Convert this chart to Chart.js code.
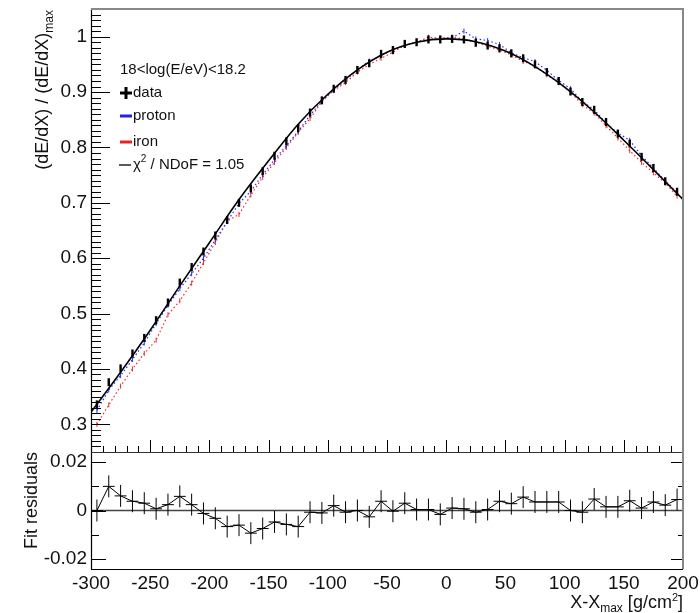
<!DOCTYPE html>
<html>
<head>
<meta charset="utf-8">
<script src="https://cdn.jsdelivr.net/npm/chart.js@4.4.0/dist/chart.umd.min.js"></script>
<style>
  body { margin: 0; background: #fff; }
  #wrap { position: relative; width: 700px; height: 613px; }
</style>
</head>
<body>
<div id="wrap"><canvas id="chart" width="700" height="613"></canvas></div>
<script>
// bin centres, X - Xmax in g/cm2
const binX = [-295, -285, -275, -265, -255, -245, -235, -225, -215, -205,
  -195, -185, -175, -165, -155, -145, -135, -125, -115, -105,
  -95, -85, -75, -65, -55, -45, -35, -25, -15, -5,
  5, 15, 25, 35, 45, 55, 65, 75, 85, 95,
  105, 115, 125, 135, 145, 155, 165, 175, 185, 195];

const dataY = [0.336, 0.376, 0.401, 0.428, 0.456, 0.488, 0.520, 0.556, 0.584, 0.612,
  0.641, 0.669, 0.700, 0.726, 0.757, 0.785, 0.811, 0.835, 0.863, 0.885,
  0.906, 0.922, 0.940, 0.952, 0.969, 0.976, 0.987, 0.990, 0.995, 0.995,
  0.996, 0.995, 0.989, 0.984, 0.979, 0.970, 0.961, 0.950, 0.936, 0.920,
  0.901, 0.882, 0.868, 0.846, 0.825, 0.807, 0.783, 0.763, 0.739, 0.720];

const protonY = [0.325, 0.362, 0.388, 0.417, 0.447, 0.482, 0.515, 0.545, 0.572, 0.600,
  0.633, 0.666, 0.699, 0.721, 0.751, 0.778, 0.803, 0.829, 0.858, 0.884,
  0.904, 0.921, 0.940, 0.956, 0.966, 0.977, 0.984, 0.990, 0.995, 0.997,
  0.998, 1.010, 0.996, 0.993, 0.986, 0.971, 0.962, 0.955, 0.939, 0.921,
  0.906, 0.883, 0.868, 0.844, 0.826, 0.813, 0.785, 0.763, 0.739, 0.719];

const ironY = [0.300, 0.335, 0.369, 0.400, 0.428, 0.452, 0.498, 0.523, 0.555, 0.592,
  0.628, 0.667, 0.679, 0.714, 0.746, 0.773, 0.800, 0.827, 0.852, 0.883,
  0.903, 0.917, 0.936, 0.950, 0.961, 0.972, 0.984, 0.990, 0.999, 0.997,
  0.999, 0.996, 0.990, 0.983, 0.976, 0.967, 0.955, 0.948, 0.931, 0.917,
  0.900, 0.877, 0.862, 0.839, 0.817, 0.794, 0.773, 0.754, 0.736, 0.712];

// fitted curve
const fitX = [-300, -275, -250, -225, -200, -175, -150, -125, -100, -75, -50,
  -25, 0, 25, 50, 75, 100, 125, 150, 175, 200];
const fitY = [0.322, 0.394, 0.470, 0.550, 0.628, 0.706, 0.776, 0.842, 0.896, 0.940, 0.972,
  0.990, 0.996, 0.991, 0.974, 0.946, 0.909, 0.864, 0.813, 0.760, 0.706];

const residY = [0.0000, 0.0099, 0.0060, 0.0038, 0.0030, 0.0007, 0.0024, 0.0058, 0.0024, -0.0012,
  -0.0032, -0.0066, -0.0060, -0.0093, -0.0074, -0.0047, -0.0057, -0.0066, -0.0007, -0.0010,
  0.0020, -0.0007, 0.0000, -0.0026, 0.0038, -0.0003, 0.0030, 0.0004, 0.0004, -0.0016,
  0.0010, 0.0007, -0.0007, 0.0004, 0.0038, 0.0028, 0.0055, 0.0035, 0.0035, 0.0035,
  0.0000, -0.0007, 0.0047, 0.0015, 0.0015, 0.0040, 0.0010, 0.0035, 0.0022, 0.0045];
const residErr = 0.0045;
const binHalf = 5;

const xTicks = [-300, -250, -200, -150, -100, -50, 0, 50, 100, 150, 200];
const yTicks = [0.3, 0.4, 0.5, 0.6, 0.7, 0.8, 0.9, 1];
const residTicks = [-0.02, 0, 0.02];
const energyLabel = "18<log(E/eV)<18.2";
const chi2Value = "1.05";

const FONT = '"Liberation Sans", Arial, sans-serif';
Chart.defaults.font.family = FONT;

function pts(xs, ys) {
    return xs.map((x, i) => ({ x: x, y: ys[i] }));
}

// text with sub/superscripts, parts = [text, size, dy]
function richWidth(ctx, parts) {
    let w = 0;
    parts.forEach((p) => { ctx.font = p[1] + "px " + FONT; w += ctx.measureText(p[0]).width; });
    return w;
}
function drawRich(ctx, parts, x, y, alignRight) {
    let cx = alignRight ? x - richWidth(ctx, parts) : x;
    ctx.textAlign = "left";
    parts.forEach((p) => {
        ctx.font = p[1] + "px " + FONT;
        ctx.fillText(p[0], cx, y + p[2]);
        cx += ctx.measureText(p[0]).width;
    });
}

function line(ctx, x1, y1, x2, y2) {
    ctx.moveTo(x1, y1);
    ctx.lineTo(x2, y2);
}

const errorBars = {
    id: "errorBars",
    afterDatasetsDraw(chart) {
        const ctx = chart.ctx, x = chart.scales.x, y = chart.scales.yr;
        ctx.save();
        ctx.strokeStyle = "#000";
        ctx.lineWidth = 1;
        ctx.beginPath();
        binX.forEach((bx, i) => {
            const px = x.getPixelForValue(bx), py = y.getPixelForValue(residY[i]);
            line(ctx, px, y.getPixelForValue(residY[i] - residErr), px, y.getPixelForValue(residY[i] + residErr));
            line(ctx, x.getPixelForValue(bx - binHalf), py, x.getPixelForValue(bx + binHalf), py);
        });
        ctx.stroke();
        ctx.restore();
    }
};

const frame = {
    id: "frame",
    afterDraw(chart) {
        const ctx = chart.ctx, ca = chart.chartArea;
        const x = chart.scales.x, y = chart.scales.y, yr = chart.scales.yr;
        const split = y.bottom;
        ctx.save();
        ctx.beginPath();
        ctx.strokeStyle = "#000";
        ctx.lineWidth = 1;
        // top panel left ticks
        for (let v = 26; v <= 104; v++) {
            const py = Math.round(y.getPixelForValue(v / 100)) + 0.5;
            line(ctx, ca.left, py, ca.left + (v % 10 === 0 ? 19 : 10), py);
        }
        // top panel bottom ticks
        for (let v = -290; v < 200; v += 10) {
            const px = Math.round(x.getPixelForValue(v)) + 0.5;
            line(ctx, px, split, px, split - (v % 50 === 0 ? 12 : 6));
        }
        // residual panel ticks
        [-0.02, -0.01, 0, 0.01, 0.02].forEach((v, i) => {
            const py = Math.round(yr.getPixelForValue(v)) + 0.5;
            const major = i % 2 === 0;
            line(ctx, ca.left, py, ca.left + (major ? 15 : 8), py);
            if (v !== 0) line(ctx, ca.right, py, ca.right - (major ? 12 : 5), py);
        });
        ctx.stroke();

        ctx.beginPath();
        ctx.lineWidth = 1.2;
        ctx.strokeStyle = "#000";
        line(ctx, ca.left + 0.5, ca.top, ca.left + 0.5, ca.bottom);
        line(ctx, ca.left, ca.bottom + 0.5, ca.right, ca.bottom + 0.5);
        ctx.stroke();
        ctx.beginPath();
        ctx.strokeStyle = "#333";
        line(ctx, ca.left, split + 0.5, ca.right, split + 0.5);
        ctx.stroke();
        ctx.beginPath();
        ctx.strokeStyle = "#888";
        ctx.lineWidth = 2;
        line(ctx, ca.left, ca.top, ca.right + 1, ca.top);
        line(ctx, ca.right, ca.top, ca.right, ca.bottom);
        ctx.stroke();

        // titles
        ctx.fillStyle = "#111";
        ctx.textBaseline = "alphabetic";
        drawRich(ctx, [["X-X", 18, 0], ["max", 12, 4], [" [g/cm", 18, 0], ["2", 11, -7], ["]", 18, 0]], ca.right, 608, true);
        ctx.save();
        ctx.translate(48, ca.top + 1);
        ctx.rotate(-Math.PI / 2);
        drawRich(ctx, [["(dE/dX) / (dE/dX)", 18, 0], ["max", 12, 5]], 0, 0, true);
        ctx.restore();
        ctx.save();
        ctx.translate(37, split);
        ctx.rotate(-Math.PI / 2);
        drawRich(ctx, [["Fit residuals", 18, 0]], 0, 0, true);
        ctx.restore();

        // legend
        ctx.textBaseline = "middle";
        drawRich(ctx, [[energyLabel, 15, 0]], 120, 70, false);
        ctx.beginPath();
        ctx.lineWidth = 3;
        ctx.strokeStyle = "#000";
        line(ctx, 126, 87, 126, 99);
        line(ctx, 120, 93, 132, 93);
        ctx.stroke();
        drawRich(ctx, [["data", 15, 0]], 133, 93, false);
        ctx.beginPath();
        ctx.strokeStyle = "#2323e8";
        line(ctx, 120, 116, 132, 116);
        ctx.stroke();
        drawRich(ctx, [["proton", 15, 0]], 133, 116, false);
        ctx.beginPath();
        ctx.strokeStyle = "#e82323";
        line(ctx, 120, 142, 132, 142);
        ctx.stroke();
        drawRich(ctx, [["iron", 15, 0]], 133, 142, false);
        ctx.beginPath();
        ctx.lineWidth = 1.3;
        ctx.strokeStyle = "#000";
        line(ctx, 119, 165, 131, 165);
        ctx.stroke();
        drawRich(ctx, [["\u03c7", 15, 0], ["2", 10, -6], [" / NDoF = " + chi2Value, 15, 0]], 133, 165, false);
        ctx.restore();
    }
};

new Chart(document.getElementById("chart"), {
    type: "line",
    data: {
        datasets: [
            {
                label: "data", data: pts(binX, dataY), yAxisID: "y", showLine: false,
                pointStyle: "line", pointRotation: 90, pointRadius: 4,
                pointBorderWidth: 2.4, pointBorderColor: "#000", pointBackgroundColor: "#000"
            },
            {
                label: "fit", data: pts(fitX, fitY), yAxisID: "y", borderColor: "#000",
                borderWidth: 1.6, pointRadius: 0, cubicInterpolationMode: "monotone"
            },
            {
                label: "proton", data: pts(binX, protonY), yAxisID: "y", borderColor: "#2b2bf0",
                borderWidth: 1.2, borderDash: [1.5, 2.5], pointStyle: "line", pointRotation: 90,
                pointRadius: 2.5, pointBorderWidth: 1, pointBorderColor: "#2b2bf0"
            },
            {
                label: "iron", data: pts(binX, ironY), yAxisID: "y", borderColor: "#f02b2b",
                borderWidth: 1.2, borderDash: [1.5, 2.5], pointStyle: "line", pointRotation: 90,
                pointRadius: 2.5, pointBorderWidth: 1, pointBorderColor: "#f02b2b"
            },
            {
                label: "residuals", data: pts(binX, residY), yAxisID: "yr", borderColor: "#000",
                borderWidth: 1, pointRadius: 0, tension: 0
            },
            {
                label: "zero", data: [{ x: -300, y: 0 }, { x: 200, y: 0 }], yAxisID: "yr",
                borderColor: "#444", borderWidth: 1.6, pointRadius: 0
            }
        ]
    },
    options: {
        responsive: false,
        animation: false,
        events: [],
        layout: { padding: { top: 9, right: 17, left: 0, bottom: 0 } },
        plugins: { legend: { display: false }, tooltip: { enabled: false } },
        scales: {
            x: {
                type: "linear", min: -300, max: 200,
                grid: { display: false, drawTicks: false }, border: { display: false },
                afterBuildTicks: (s) => { s.ticks = xTicks.map((v) => ({ value: v })); },
                afterFit: (s) => { s.height = 44; s.paddingLeft = 0; s.paddingRight = 0; },
                ticks: { autoSkip: false, maxRotation: 0, padding: 3, color: "#111", font: { size: 19 }, callback: (v) => String(v) }
            },
            // left boxes are stacked in reverse order, so the residual axis comes first
            yr: {
                type: "linear", position: "left", stack: "panels", stackWeight: 117,
                min: -0.024, max: 0.024,
                grid: { display: false, drawTicks: false }, border: { display: false },
                afterBuildTicks: (s) => { s.ticks = residTicks.map((v) => ({ value: v })); },
                afterFit: (s) => { s.width = 91; s.paddingTop = 0; s.paddingBottom = 0; },
                ticks: { padding: 4, color: "#111", font: { size: 19 }, callback: (v) => String(v) }
            },
            y: {
                type: "linear", position: "left", stack: "panels", stackWeight: 443,
                min: 0.25, max: 1.05,
                grid: { display: false, drawTicks: false }, border: { display: false },
                afterBuildTicks: (s) => { s.ticks = yTicks.map((v) => ({ value: v })); },
                afterFit: (s) => { s.width = 91; s.paddingTop = 0; s.paddingBottom = 0; },
                ticks: { padding: 4, color: "#111", font: { size: 19 }, callback: (v) => String(v) }
            }
        }
    },
    plugins: [errorBars, frame]
});
</script>
</body>
</html>
